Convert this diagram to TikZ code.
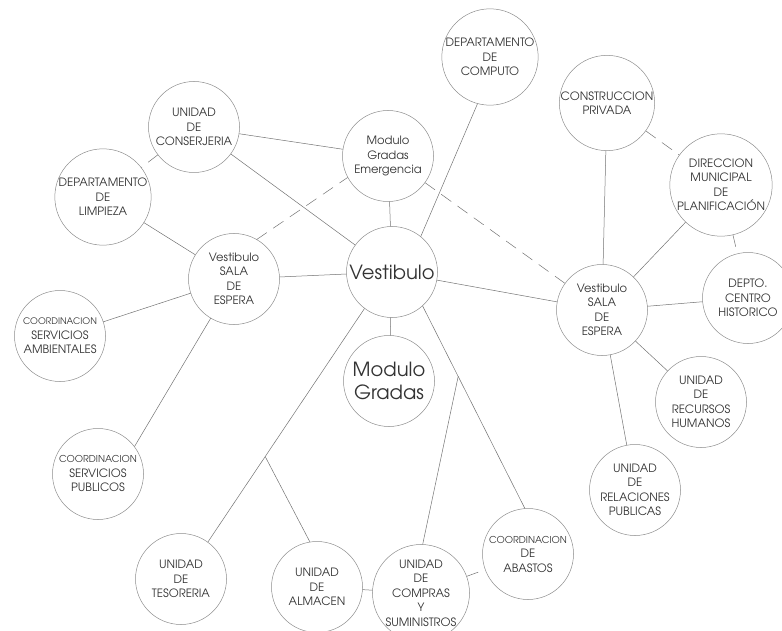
\documentclass[tikz,border=0pt]{standalone}
\usepackage{fontspec}
\setmainfont{texgyreadventor-regular.otf}
\usepackage{tikz}
\usetikzlibrary{calc}

\begin{document}
\begin{tikzpicture}[x=1pt, y=-1pt, line cap=round, line join=round,
    bubble/.style={circle, draw=black!45, line width=0.5pt, minimum size=91pt, inner sep=0pt,
        align=center, text=black!80, font=\fontsize{11.5}{14.5}\selectfont},
    bigbubble/.style={bubble, font=\fontsize{19.5}{23}\selectfont},
    link/.style={draw=black!55, line width=0.5pt},
    dlink/.style={link, dash pattern=on 12pt off 8pt}]
    \useasboundingbox (0,0) rectangle (782,631);

    % central hall and its modules
    \node[bigbubble] (vest) at (392,272) {Vestibulo};
    \node[bigbubble] (modGradas) at (389,381) {Modulo\\Gradas};
    \node[bubble] (modEmerg) at (388,156) {Modulo\\Gradas\\Emergencia};
    \node[bubble] (computo) at (490,57) {DEPARTAMENTO\\DE\\COMPUTO};

    % left waiting room
    \node[bubble] (vestL) at (234,279) {Vestibulo\\SALA\\DE\\ESPERA};
    \node[bubble] (conserjeria) at (194,127) {UNIDAD\\DE\\CONSERJERIA};
    \node[bubble] (limpieza) at (103,197) {DEPARTAMENTO\\DE\\LIMPIEZA};
    \node[bubble] (ambientales) at (60,336) {{\fontsize{9}{11}\selectfont COORDINACION}\\SERVICIOS\\AMBIENTALES};
    \node[bubble] (publicos) at (98,474) {{\fontsize{9.5}{11}\selectfont COORDINACION}\\SERVICIOS\\PUBLICOS};

    % bottom units
    \node[bubble] (tesoreria) at (181,579) {UNIDAD\\DE\\TESORERIA};
    \node[bubble] (almacen) at (317,587) {UNIDAD\\DE\\ALMACEN};
    \node[bubble] (compras) at (421,593) {UNIDAD\\DE\\COMPRAS\\Y\\SUMINISTROS};
    \node[bubble] (abastos) at (528,554) {{\fontsize{9.5}{11}\selectfont COORDINACION}\\DE\\ABASTOS};

    % right waiting room
    \node[bubble] (vestR) at (602,310) {Vestibulo\\SALA\\DE\\ESPERA};
    \node[bubble] (privada) at (607,103) {CONSTRUCCION\\PRIVADA};
    \node[bubble] (planificacion) at (721,185) {DIRECCION\\MUNICIPAL\\DE\\PLANIFICACIÓN};
    \node[bubble] (historico) at (748,298) {DEPTO.\\CENTRO\\HISTORICO};
    \node[bubble] (rrhh) at (701,402) {UNIDAD\\DE\\RECURSOS\\HUMANOS};
    \node[bubble] (relaciones) at (635,490) {UNIDAD\\DE\\RELACIONES\\PUBLICAS};

    % branch points
    \coordinate (brTes) at ($(vest.-127)!0.634!(tesoreria.54)$);
    \coordinate (brAba) at ($(vest.-48)!0.348!(abastos.94)$);

    % solid links
    \draw[link] (conserjeria) -- (modEmerg);
    \draw[link] (conserjeria) -- (vest);
    \draw[link] (limpieza) -- (vestL);
    \draw[link] (vestL) -- (vest);
    \draw[link] (vestL) -- (ambientales);
    \draw[link] (vestL) -- (publicos.37);
    \draw[link] (modEmerg) -- (vest);
    \draw[link] (computo.-105) -- (vest.51);
    \draw[link] (vest) -- (modGradas);
    \draw[link] (vest) -- (vestR);
    \draw[link] (vest.-127) -- (tesoreria.54);
    \draw[link] (brTes) -- (almacen.99);
    \draw[link] (vest.-48) -- (abastos.94);
    \draw[link] (brAba) -- (compras.88);
    \draw[link] (almacen) -- (compras);
    \draw[link] (vestR) -- (privada);
    \draw[link] (vestR) -- (planificacion);
    \draw[link] (vestR) -- (historico);
    \draw[link] (vestR) -- (rrhh);
    \draw[link] (vestR) -- (relaciones);

    % dashed links
    \draw[dlink] (conserjeria) -- (limpieza);
    \draw[dlink] (vestL.60) -- (modEmerg.-152);
    \draw[dlink] (modEmerg) -- (vestR);
    \draw[dlink] (compras) -- (abastos);
    \draw[dlink] (privada) -- (planificacion);
    \draw[dlink] (planificacion) -- (historico);
\end{tikzpicture}
\end{document}
